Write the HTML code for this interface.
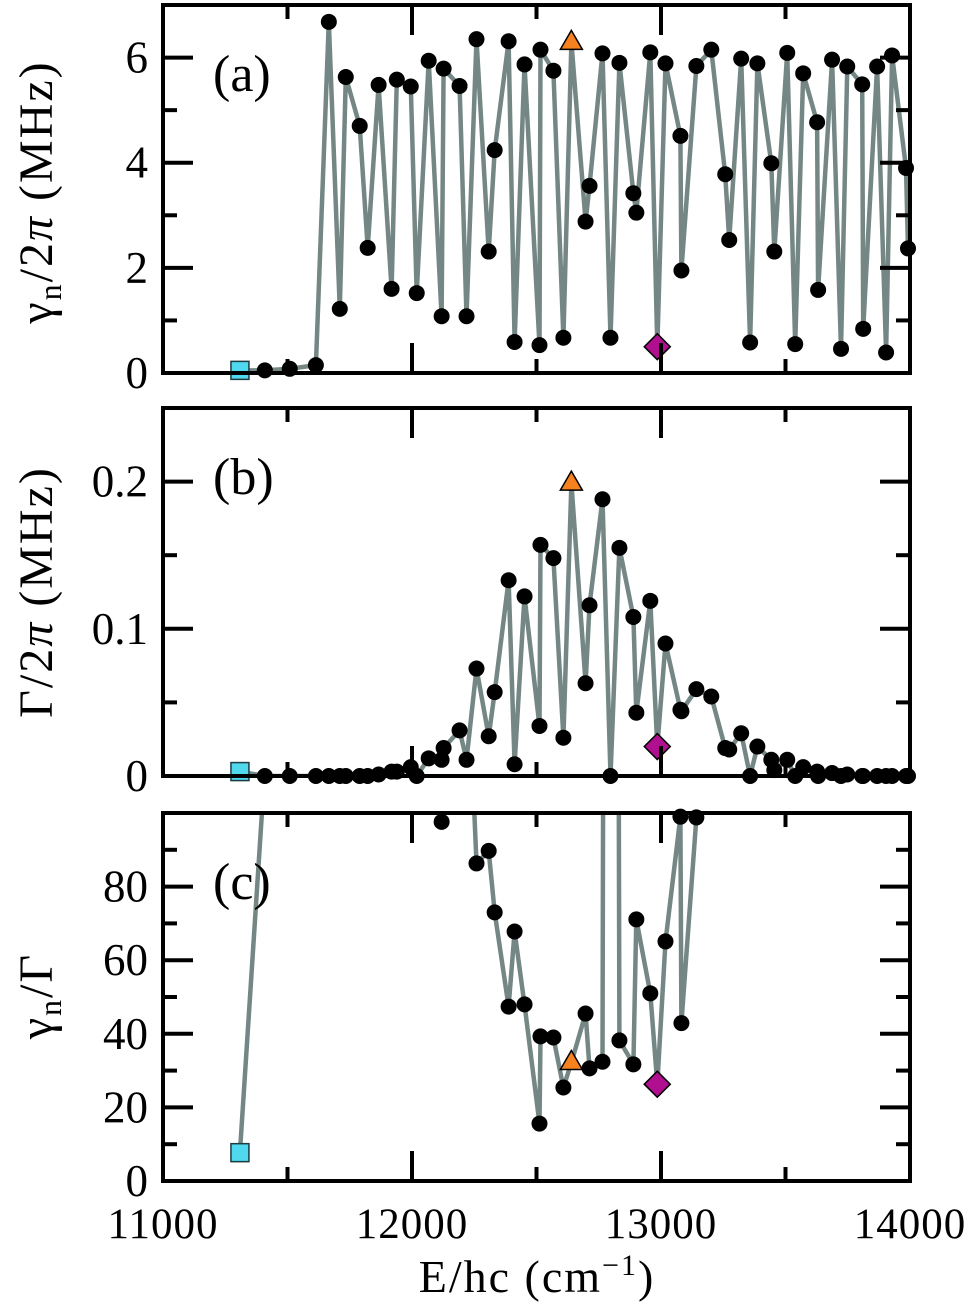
<!DOCTYPE html>
<html><head><meta charset="utf-8"><style>
html,body{margin:0;padding:0;background:#fff;}
svg text{font-family:"Liberation Serif",serif;fill:#000;}
</style></head><body>
<svg id="fig" width="970" height="1310" viewBox="0 0 970 1310" xmlns="http://www.w3.org/2000/svg">
<defs>
<clipPath id="clipA"><rect x="163" y="5" width="747" height="368"/></clipPath>
<clipPath id="clipB"><rect x="163" y="408" width="747" height="368"/></clipPath>
<clipPath id="clipC"><rect x="163" y="813" width="747" height="368"/></clipPath>
</defs>
<g id="layer"></g>
<text transform="translate(52,192) rotate(-90)" text-anchor="middle" font-size="48" letter-spacing="2">γ<tspan font-size="32" dy="9">n</tspan><tspan dy="-9">/2</tspan><tspan font-style="italic">π</tspan>  (MHz)</text>
<text transform="translate(52,592) rotate(-90)" text-anchor="middle" font-size="48" letter-spacing="2">Γ/2<tspan font-style="italic">π</tspan>  (MHz)</text>
<text transform="translate(52,996) rotate(-90)" text-anchor="middle" font-size="48" letter-spacing="2">γ<tspan font-size="32" dy="9">n</tspan><tspan dy="-9">/Γ</tspan></text>
<text x="537" y="1292" text-anchor="middle" font-size="46" letter-spacing="2">E/hc (cm<tspan font-size="30" dy="-17">−1</tspan><tspan dy="17">)</tspan></text>
</svg>
<script>
const energies=[11309,11409,11509,11614,11666,11710,11734,11790,11822,11866,11918,11939,11995,12019,12067,12119,12127,12191,12219,12259,12308,12332,12388,12412,12452,12512,12516,12568,12608,12640,12697,12713,12765,12797,12833,12889,12901,12957,12985,13018,13078,13082,13142,13202,13258,13274,13322,13358,13387,13443,13455,13507,13539,13571,13627,13631,13687,13723,13748,13808,13812,13868,13904,13928,13984,13992];
const gammaN=[0.05,0.05,0.08,0.15,6.68,1.22,5.63,4.7,2.38,5.48,1.6,5.58,5.45,1.52,5.94,1.08,5.79,5.46,1.08,6.35,2.31,4.24,6.31,0.59,5.87,0.53,6.15,5.75,0.67,6.29,2.88,3.56,6.08,0.67,5.9,3.42,3.05,6.1,0.5,5.89,4.51,1.95,5.84,6.15,3.78,2.53,5.98,0.58,5.89,3.99,2.31,6.09,0.55,5.7,4.77,1.58,5.96,0.46,5.83,5.49,0.84,5.83,0.39,6.04,3.9,2.37];
const gammaTot=[0.003,0,0,0,0,0,0,0,0,0.001,0.003,0.003,0.006,0,0.012,0.011,0.019,0.031,0.011,0.073,0.027,0.057,0.133,0.008,0.122,0.034,0.157,0.148,0.026,0.199,0.063,0.116,0.188,0,0.155,0.108,0.043,0.119,0.020,0.090,0.045,0.044,0.059,0.054,0.019,0.018,0.029,0,0.020,0.011,0.004,0.011,0,0.006,0.003,0,0.002,0,0.001,0,0,0,0,0,0,0];
const ratio=[7.7,112,400,400,400,400,400,400,400,400,400,400,400,400,400,97.6,305,176,150,86.3,89.7,73,47.4,67.8,48,15.6,39.3,39,25.4,32.2,45.5,30.6,32.4,999,38.2,31.7,71.1,51,26.3,65.1,99,42.9,98.8,114,300,140,200,999,290,360,580,550,999,950,1600,999,2900,999,5800,999,999,999,999,999,999,999];
const xTicks=[11000,12000,13000,14000];
const xTickLabels=["11000","12000","13000","14000"];
const specialIdx={square:0,triangle:29,diamond:38};

const NS="http://www.w3.org/2000/svg";
const layer=document.getElementById('layer');
const X0=163,X1=910;
function xs(e){return X0+(e-11000)/3000*(X1-X0);}
function mk(tag,attrs,parent){const el=document.createElementNS(NS,tag);for(const k in attrs)el.setAttribute(k,attrs[k]);(parent||layer).appendChild(el);return el;}

const panels=[
 {key:'a',top:5,bot:373,ymax:7,vals:gammaN,major:[0,2,4,6],minor:[1,3,5],labels:["0","2","4","6"],clip:'clipA'},
 {key:'b',top:408,bot:776,ymax:0.25,vals:gammaTot,major:[0,0.1,0.2],minor:[0.05,0.15],labels:["0","0.1","0.2"],clip:'clipB'},
 {key:'c',top:813,bot:1181,ymax:100,vals:ratio,major:[0,20,40,60,80],minor:[10,30,50,70,90],labels:["0","20","40","60","80"],clip:'clipC'}
];
panels.forEach(p=>{
 const g=mk('g',{});
 
 
 const ys=v=>p.bot-v/p.ymax*(p.bot-p.top);
 let d='';p.vals.forEach((v,i)=>{d+=(i?'L':'M')+xs(energies[i]).toFixed(1)+' '+ys(Math.min(v,p.ymax*20)).toFixed(1);});
 const line=mk('path',{d:d,fill:'none',stroke:'#748784','stroke-width':4.5,'stroke-linejoin':'round','clip-path':'url(#'+p.clip+')'},g);
 
 
 p.vals.forEach((v,i)=>{
  if(v>p.ymax*1.01)return;
  const cx=xs(energies[i]),cy=ys(v);
  let m;
  if(i===specialIdx.square){m=mk('rect',{x:cx-9,y:cy-9,width:18,height:18,fill:'#4fd8ee',stroke:'#1e3b40','stroke-width':1.5},g);}
  else if(i===specialIdx.triangle){m=mk('path',{d:`M${cx} ${cy-12}L${cx+11} ${cy+7}L${cx-11} ${cy+7}Z`,fill:'#f5821f',stroke:'#000','stroke-width':1.5},g);}
  else if(i===specialIdx.diamond){m=mk('path',{d:`M${cx} ${cy-13}L${cx+13} ${cy}L${cx} ${cy+13}L${cx-13} ${cy}Z`,fill:'#b0108f',stroke:'#000','stroke-width':1.5},g);}
  else {m=mk('circle',{cx:cx,cy:cy,r:8,fill:'#000'},g);}
  
  
 });
 const tg=mk('g',{stroke:'#000','stroke-width':4},g);
 
 
 p.major.forEach(v=>{const y=ys(v);mk('line',{x1:X0,x2:X0+30,y1:y,y2:y},tg);mk('line',{x1:X1,x2:X1-30,y1:y,y2:y},tg);});
 p.minor.forEach(v=>{const y=ys(v);mk('line',{x1:X0,x2:X0+14,y1:y,y2:y},tg);mk('line',{x1:X1,x2:X1-14,y1:y,y2:y},tg);});
 [11000,12000,13000,14000].forEach(e=>{const x=xs(e);mk('line',{x1:x,x2:x,y1:p.top,y2:p.top+30},tg);mk('line',{x1:x,x2:x,y1:p.bot,y2:p.bot-30},tg);});
 [11500,12500,13500].forEach(e=>{const x=xs(e);mk('line',{x1:x,x2:x,y1:p.top,y2:p.top+14},tg);mk('line',{x1:x,x2:x,y1:p.bot,y2:p.bot-14},tg);});
 const fr=mk('rect',{x:X0,y:p.top,width:X1-X0,height:p.bot-p.top,fill:'none',stroke:'#000','stroke-width':4},g);
 
 
 p.major.forEach((v,i)=>{const t=mk('text',{x:148,y:ys(v)+15,'text-anchor':'end','font-size':45},g);t.textContent=p.labels[i];
  
  });
 const pl=mk('text',{x:213,y:p.top+86,'font-size':52},g);pl.textContent='('+p.key+')';
 
 
});
xTicks.forEach((e,i)=>{const t=mk('text',{x:xs(e),y:1238,'text-anchor':'middle','font-size':43,'letter-spacing':1});t.textContent=xTickLabels[i];
 
 });
</script>
</body></html>
